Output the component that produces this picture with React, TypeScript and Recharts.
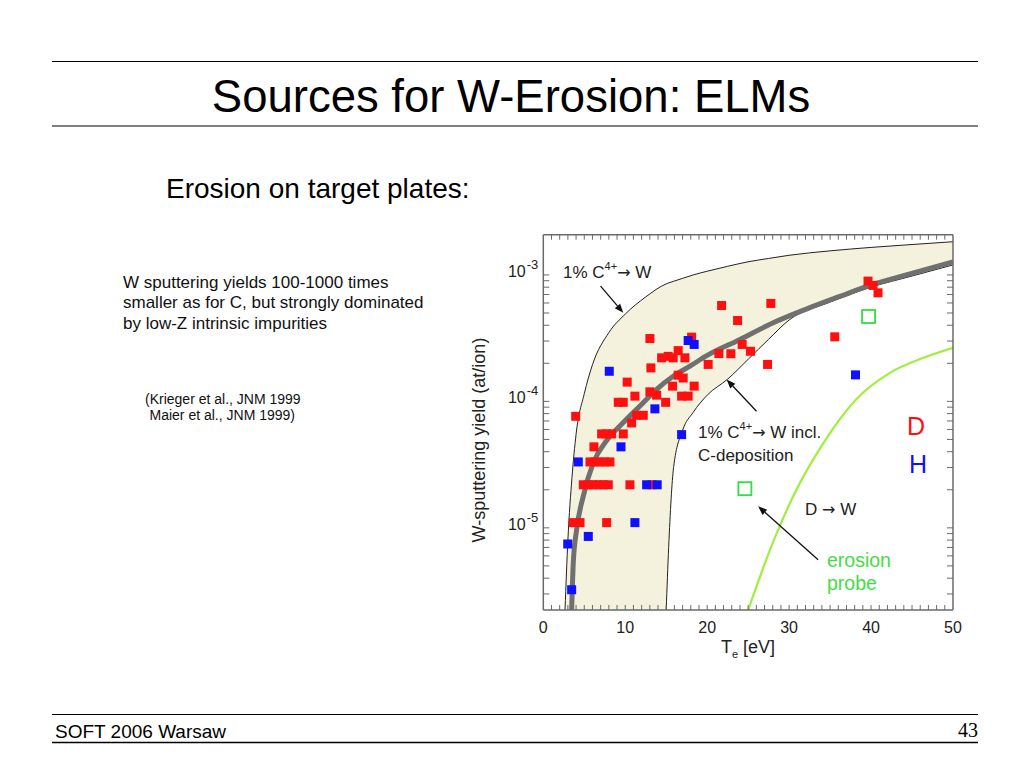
import React from 'react';
import { ComposedChart, Area, Line, Scatter, XAxis, YAxis, ReferenceLine } from 'recharts';

const Y_MIN = 2.24e-6;
const Y_MAX = 2.08e-3;

const xTicks = [0, 1, 2, 3, 4, 5, 6, 7, 8, 9, 10, 11, 12, 13, 14, 15, 16, 17, 18, 19, 20, 21, 22, 23, 24, 25, 26, 27, 28, 29, 30, 31, 32, 33, 34, 35, 36, 37, 38, 39, 40, 41, 42, 43, 44, 45, 46, 47, 48, 49, 50];
const xTickLabels = [0, 10, 20, 30, 40, 50];
const yTicks = [3e-6, 4e-6, 5e-6, 6e-6, 7e-6, 8e-6, 9e-6, 1e-5, 2e-5, 3e-5, 4e-5, 5e-5, 6e-5, 7e-5, 8e-5, 9e-5, 1e-4, 2e-4, 3e-4, 4e-4, 5e-4, 6e-4, 7e-4, 8e-4, 9e-4, 1e-3];
const yDecades = [1e-5, 1e-4, 1e-3];
const yDecadeExp = ['-5', '-4', '-3'];

// band "1% C4+ -> W" (upper) and "incl. C-deposition" (lower)
const bandX = [2.65, 3.0, 3.5, 4.0, 5.0, 6.0, 8.0, 10.0, 12.5, 15.0, 15.3, 15.9, 17.0, 18.3, 20.0, 22.5, 25.0, 27.5, 30.0, 35.0, 40.0, 45.0, 50.0];
const bandUpper = [2.24e-6, 8e-6, 2.5e-5, 5.5e-5, 1.15e-4, 1.95e-4, 3.5e-4, 4.9e-4, 6.7e-4, 8.5e-4, 8.65e-4, 8.9e-4, 9.4e-4, 1.0e-3, 1.07e-3, 1.17e-3, 1.27e-3, 1.35e-3, 1.43e-3, 1.55e-3, 1.65e-3, 1.74e-3, 1.83e-3];
const bandLower = [2.24e-6, 2.24e-6, 2.24e-6, 2.24e-6, 2.24e-6, 2.24e-6, 2.24e-6, 2.24e-6, 2.24e-6, 2.24e-6, 7e-6, 3e-5, 5.9e-5, 8.2e-5, 1.12e-4, 1.5e-4, 2.15e-4, 3.1e-4, 4.4e-4, 6.1e-4, 8.0e-4, 9.8e-4, 1.2e-3];

// thick grey fit curve
const grayX = [3.46, 3.66, 4.07, 4.88, 6.10, 7.73, 9.76, 11.8, 13.8, 15.85, 17.9, 19.9, 24.0, 28.0, 32.1, 36.2, 40.2, 44.3, 50.0];
const grayY = [2.24e-6, 5.3e-6, 9.7e-6, 1.78e-5, 3.26e-5, 4.9e-5, 6.8e-5, 9.2e-5, 1.24e-4, 1.58e-4, 1.9e-4, 2.29e-4, 3.09e-4, 4.17e-4, 5.37e-4, 6.76e-4, 8.4e-4, 1.0e-3, 1.27e-3];

// D -> W green curve
const dwX = [25.0, 28.0, 30.5, 34.2, 38.2, 42.3, 46.4, 50.0];
const dwY = [2.24e-6, 7.6e-6, 1.78e-5, 4.7e-5, 1.04e-4, 1.68e-4, 2.21e-4, 2.65e-4];

// erosion probe (open green squares)
const probePoints: [number, number][] = [[24.6, 2.04e-5], [39.7, 4.69e-4]];

// D data (red)
const redPoints: [number, number][] = [
  [21.76, 5.73e-4], [27.77, 5.95e-4], [23.71, 4.36e-4], [13.01, 3.14e-4], [18.1, 3.22e-4],
  [16.46, 2.52e-4], [14.44, 2.21e-4], [15.24, 2.27e-4], [15.85, 2.21e-4], [17.28, 2.21e-4],
  [21.43, 2.39e-4], [22.89, 2.38e-4], [24.27, 2.82e-4], [25.29, 2.49e-4], [20.12, 1.96e-4],
  [27.37, 1.96e-4], [13.13, 1.84e-4], [16.46, 1.61e-4], [17.07, 1.53e-4], [10.24, 1.42e-4],
  [15.78, 1.32e-4], [18.41, 1.32e-4], [13.01, 1.19e-4], [13.83, 1.12e-4], [11.18, 1.10e-4],
  [16.88, 1.10e-4], [17.68, 1.10e-4], [14.93, 9.83e-5], [9.15, 9.83e-5], [9.76, 9.83e-5],
  [3.95, 7.62e-5], [11.39, 7.76e-5], [12.2, 7.76e-5], [10.78, 6.76e-5], [7.12, 5.53e-5],
  [7.73, 5.53e-5], [8.34, 5.53e-5], [9.76, 5.53e-5], [6.18, 4.37e-5], [5.70, 3.32e-5],
  [6.30, 3.32e-5], [6.91, 3.32e-5], [7.52, 3.32e-5], [8.13, 3.32e-5], [4.88, 2.19e-5],
  [5.49, 2.19e-5], [6.10, 2.19e-5], [6.71, 2.19e-5], [7.32, 2.19e-5], [7.93, 2.19e-5],
  [10.57, 2.19e-5], [13.26, 2.19e-5], [3.66, 1.10e-5], [4.48, 1.10e-5], [7.73, 1.10e-5],
  [39.63, 8.93e-4], [40.24, 8.26e-4], [40.85, 7.22e-4], [35.57, 3.24e-4],
];

// H data (blue)
const bluePoints: [number, number][] = [
  [8.05, 1.73e-4], [17.68, 3.03e-4], [18.41, 2.82e-4], [13.62, 8.73e-5], [16.88, 5.46e-5],
  [9.48, 4.37e-5], [4.27, 3.32e-5], [12.61, 2.19e-5], [13.9, 2.19e-5], [11.18, 1.10e-5],
  [5.49, 8.55e-6], [2.98, 7.45e-6], [3.46, 3.24e-6], [38.1, 1.62e-4],
];

// annotation arrows [from, to] in data coordinates
const arrowC4: [number, number][] = [[6.99, 8.15e-4], [9.76, 5.02e-4]];
const arrowDep: [number, number][] = [[26.02, 8.36e-5], [22.37, 1.49e-4]];
const arrowProbe: [number, number][] = [[33.54, 5.59e-6], [26.22, 1.48e-5]];

const bandData = bandX.map((x, i) => ({
  x,
  upper: bandUpper[i],
  lower: bandLower[i],
  lowerLine: x >= 15 ? bandLower[i] : null,
}));
const grayData = grayX.map((x, i) => ({ x, y: grayY[i] }));
const dwData = dwX.map((x, i) => ({ x, y: dwY[i] }));
const toXY = (arr: [number, number][]) => arr.map(([x, y]) => ({ x, y }));

const FONT = '"Liberation Sans", Arial, sans-serif';
const ARROW_FONT = '"DejaVu Sans", sans-serif';
const AXIS_COLOR = '#6a6a6a';
const TM = 10;

const sq = (color: string, size: number) => (p: any) => {
  const { cx, cy } = p;
  if (cx == null || cy == null) return <g />;
  return <rect x={cx - size / 2} y={cy - size / 2} width={size} height={size} fill={color} />;
};
const openSq = (p: any) => {
  const { cx, cy } = p;
  if (cx == null || cy == null) return <g />;
  return <rect x={cx - 6.5} y={cy - 6.5} width={13} height={13} fill="none" stroke="#33dd44" strokeWidth={1.8} />;
};

const arrowShape = (p: any) => {
  const { x1, y1, x2, y2 } = p;
  if ([x1, y1, x2, y2].some((v) => v == null || isNaN(v))) return <g />;
  const ang = Math.atan2(y2 - y1, x2 - x1);
  const L = 9;
  const W = 3.5;
  const bx = x2 - L * Math.cos(ang);
  const by = y2 - L * Math.sin(ang);
  const px = -Math.sin(ang) * W;
  const py = Math.cos(ang) * W;
  return (
    <g>
      <line x1={x1} y1={y1} x2={bx} y2={by} stroke="#111" strokeWidth={1.3} />
      <polygon points={`${x2},${y2} ${bx + px},${by + py} ${bx - px},${by - py}`} fill="#111" />
    </g>
  );
};

const XBottomTick = (p: any) => {
  const { x, y, payload } = p;
  const v = payload.value;
  const ay = y - TM;
  const showLabel = xTickLabels.includes(v);
  return (
    <g>
      {v > 0 && v < 50 && <line x1={x} x2={x} y1={ay} y2={ay - 5} stroke={AXIS_COLOR} strokeWidth={1} />}
      {showLabel && (
        <text x={x} y={ay + 23} textAnchor="middle" fontSize={16} fontFamily={FONT} fill="#222">
          {v}
        </text>
      )}
    </g>
  );
};
const XTopTick = (p: any) => {
  const { x, y, payload } = p;
  const v = payload.value;
  const ay = y + TM;
  return <g>{v > 0 && v < 50 && <line x1={x} x2={x} y1={ay} y2={ay + 5} stroke={AXIS_COLOR} strokeWidth={1} />}</g>;
};
const YLeftTick = (p: any) => {
  const { x, y, payload } = p;
  const v = payload.value;
  const ax = x + TM;
  const di = yDecades.findIndex((d) => Math.abs(v / d - 1) < 1e-6);
  return (
    <g>
      <line x1={ax} x2={ax + 6} y1={y} y2={y} stroke={AXIS_COLOR} strokeWidth={1} />
      {di >= 0 && (
        <text x={ax - 5} y={y + 2} textAnchor="end" fontSize={16} fontFamily={FONT} fill="#222">
          10
          <tspan dy={-8} fontSize={13} dx={1}>
            {yDecadeExp[di]}
          </tspan>
        </text>
      )}
    </g>
  );
};
const YRightTick = (p: any) => {
  const { x, y } = p;
  const ax = x - TM;
  return <line x1={ax - 6} x2={ax} y1={y} y2={y} stroke={AXIS_COLOR} strokeWidth={1} />;
};

const txt = { fontFamily: FONT };

export default function App() {
  const axisLine = { stroke: AXIS_COLOR, strokeWidth: 1.5 };
  return (
    <div style={{ position: 'absolute', left: 0, top: 0, width: 1024, height: 768, background: '#fff', overflow: 'hidden' }}>
      <div style={{ position: 'absolute', left: 0, top: 0 }}>
        <ComposedChart
          width={1024}
          height={768}
          data={bandData}
          margin={{ top: 224.7, left: 483.3, right: 61, bottom: 118 }}
        >
          <XAxis
            xAxisId={0}
            dataKey="x"
            type="number"
            domain={[0, 50]}
            allowDataOverflow
            ticks={xTicks}
            interval={0}
            tickSize={0}
            tickMargin={TM}
            height={40}
            axisLine={axisLine}
            tickLine={false}
            tick={XBottomTick}
          />
          <XAxis
            xAxisId="t"
            orientation="top"
            dataKey="x"
            type="number"
            domain={[0, 50]}
            allowDataOverflow
            ticks={xTicks}
            interval={0}
            tickSize={0}
            tickMargin={TM}
            height={10}
            axisLine={axisLine}
            tickLine={false}
            tick={XTopTick}
          />
          <YAxis
            yAxisId={0}
            dataKey="y"
            type="number"
            scale="log"
            domain={[Y_MIN, Y_MAX]}
            allowDataOverflow
            ticks={yTicks}
            interval={0}
            tickSize={0}
            tickMargin={TM}
            width={60}
            axisLine={axisLine}
            tickLine={false}
            tick={YLeftTick}
          />
          <YAxis
            yAxisId="r"
            orientation="right"
            dataKey="y"
            type="number"
            scale="log"
            domain={[Y_MIN, Y_MAX]}
            allowDataOverflow
            ticks={yTicks}
            interval={0}
            tickSize={0}
            tickMargin={TM}
            width={10}
            axisLine={axisLine}
            tickLine={false}
            tick={YRightTick}
          />
          <Area
            dataKey={(d: any) => [d.lower, d.upper]}
            type="monotone"
            fill="#f4f1dc"
            fillOpacity={1}
            stroke="none"
            isAnimationActive={false}
          />
          <Line dataKey="upper" type="monotone" stroke="#222" strokeWidth={1} dot={false} activeDot={false} isAnimationActive={false} />
          <Line dataKey="lowerLine" type="monotone" stroke="#222" strokeWidth={1} dot={false} activeDot={false} isAnimationActive={false} />
          <Line data={dwData} dataKey="y" type="monotone" stroke="#a0ee40" strokeWidth={2.2} dot={false} activeDot={false} isAnimationActive={false} />
          <Line data={grayData} dataKey="y" type="monotone" stroke="#707070" strokeWidth={5} dot={false} activeDot={false} isAnimationActive={false} />
          <Scatter data={toXY(probePoints)} dataKey="y" shape={openSq} isAnimationActive={false} />
          <Scatter data={toXY(redPoints)} dataKey="y" shape={sq('#ff1010', 9)} isAnimationActive={false} />
          <Scatter data={toXY(bluePoints)} dataKey="y" shape={sq('#1010ff', 9)} isAnimationActive={false} />
          <ReferenceLine segment={toXY(arrowC4)} shape={arrowShape} ifOverflow="visible" />
          <ReferenceLine segment={toXY(arrowDep)} shape={arrowShape} ifOverflow="visible" />
          <ReferenceLine segment={toXY(arrowProbe)} shape={arrowShape} ifOverflow="visible" />
        </ComposedChart>
      </div>
      <svg width={1024} height={768} style={{ position: 'absolute', left: 0, top: 0, pointerEvents: 'none' }}>
        <line x1={52} x2={978} y1={61.5} y2={61.5} stroke="#000" strokeWidth={1} />
        <line x1={52} x2={978} y1={126} y2={126} stroke="#808080" strokeWidth={2} />
        <line x1={52} x2={978} y1={714.5} y2={714.5} stroke="#000" strokeWidth={1} />
        <line x1={52} x2={978} y1={742.5} y2={742.5} stroke="#000" strokeWidth={1.5} />
        <text x={511} y={111.5} textAnchor="middle" fontSize={45.5} {...txt} fill="#000">Sources for W-Erosion: ELMs</text>
        <text x={166} y={198} fontSize={28} {...txt} fill="#000">Erosion on target plates:</text>
        <text x={55} y={738} fontSize={19} {...txt} fill="#000">SOFT 2006 Warsaw</text>
        <text x={978} y={737} textAnchor="end" fontSize={20} fontFamily={'"Liberation Serif", "Times New Roman", serif'} fill="#000">43</text>

        <text x={123} y={287.5} fontSize={17} {...txt} fill="#111">W sputtering yields 100-1000 times</text>
        <text x={123} y={308} fontSize={17} {...txt} fill="#111">smaller as for C, but strongly dominated</text>
        <text x={123} y={328.5} fontSize={17} {...txt} fill="#111">by low-Z intrinsic impurities</text>
        <text x={145} y={403.5} fontSize={14} {...txt} fill="#111">(Krieger et al., JNM 1999</text>
        <text x={149.5} y={419.5} fontSize={14} {...txt} fill="#111">Maier et al., JNM 1999)</text>

        <text x={484.5} y={440} textAnchor="middle" fontSize={18} {...txt} fill="#222" transform="rotate(-90 484.5 440)">W-sputtering yield (at/ion)</text>
        <text x={748} y={653} textAnchor="middle" fontSize={18} {...txt} fill="#222">
          T<tspan fontSize={11} dy={5}>e</tspan><tspan dy={-5}> [eV]</tspan>
        </text>

        <text x={563} y={278} fontSize={17} {...txt} fill="#222">
          1% C<tspan fontSize={11} dy={-8}>4+</tspan><tspan dy={8} fontFamily={ARROW_FONT} fontSize={16}>→</tspan><tspan> W</tspan>
        </text>
        <text x={698} y={438} fontSize={17} {...txt} fill="#222">
          1% C<tspan fontSize={11} dy={-8}>4+</tspan><tspan dy={8} fontFamily={ARROW_FONT} fontSize={16}>→</tspan><tspan> W incl.</tspan>
        </text>
        <text x={698} y={461} fontSize={17} {...txt} fill="#222">C-deposition</text>
        <text x={805} y={515} fontSize={17} {...txt} fill="#222">
          D <tspan fontFamily={ARROW_FONT} fontSize={16}>→</tspan> W
        </text>
        <text x={827} y={567} fontSize={19.5} {...txt} fill="#44dd44">erosion</text>
        <text x={827} y={589.5} fontSize={19.5} {...txt} fill="#44dd44">probe</text>
        <text x={907} y={435} fontSize={25} {...txt} fill="#ff1010">D</text>
        <text x={909} y={473} fontSize={25} {...txt} fill="#1010ff">H</text>
      </svg>
    </div>
  );
}
